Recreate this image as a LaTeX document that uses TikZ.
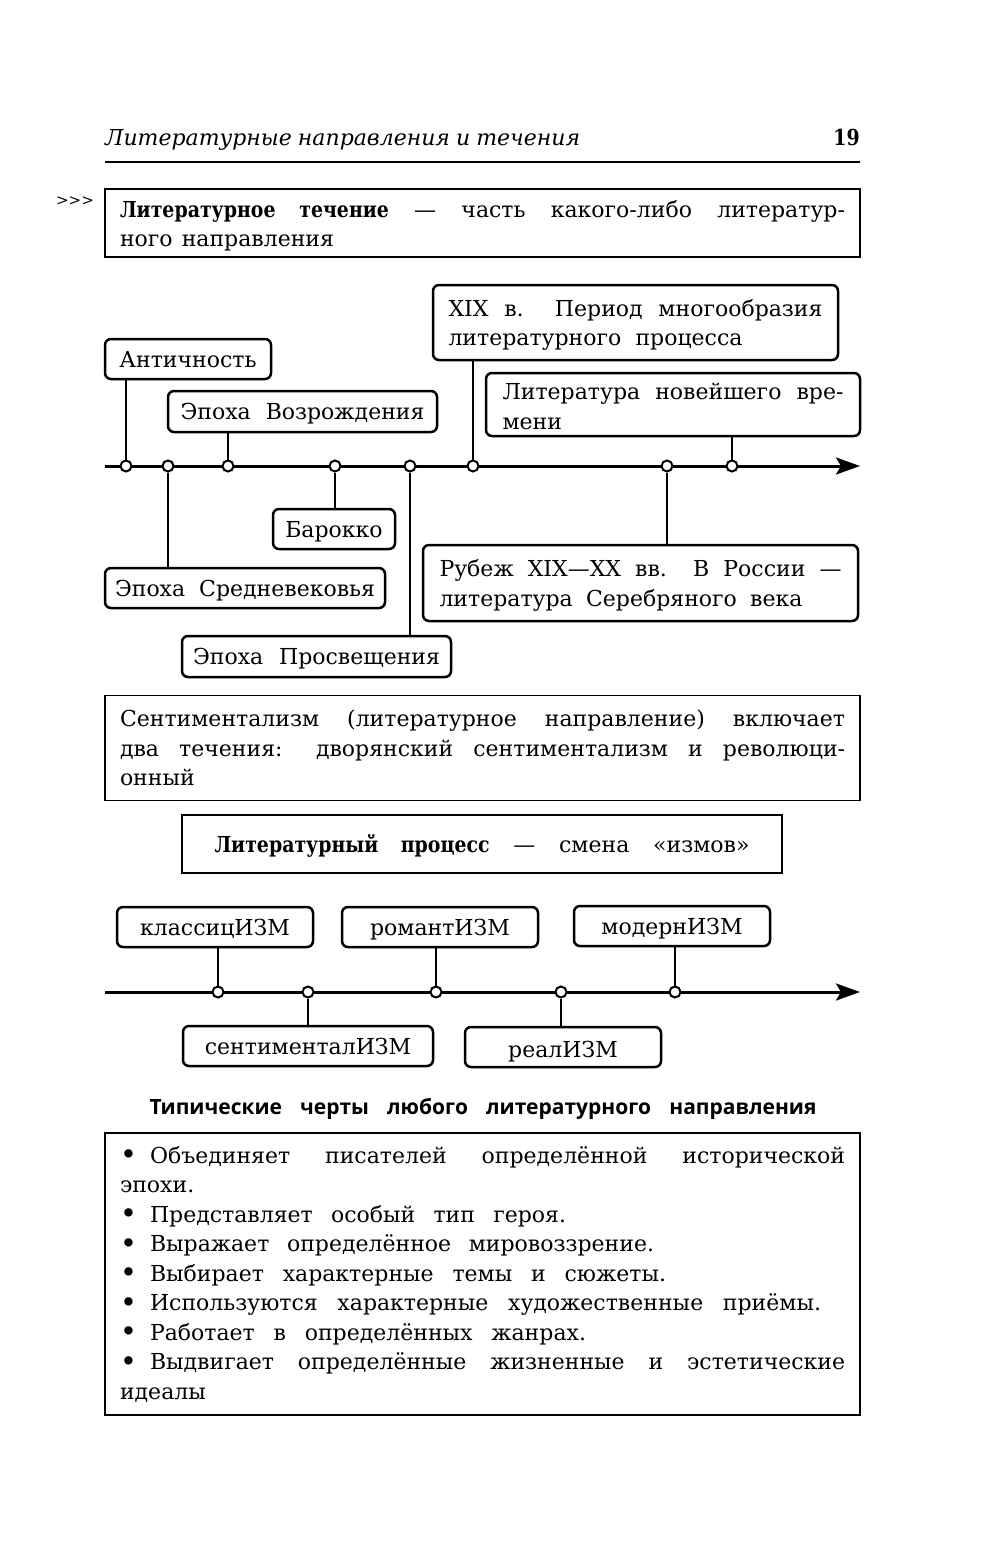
\documentclass[tikz,border=0pt]{standalone}
\usepackage{fontspec}
\setmainfont{DejaVu Serif}[WordSpace=1.3, BoldFeatures={FakeStretch=0.86}]
\newfontfamily\headsans{Open Sans}
\usetikzlibrary{arrows.meta}
\newcommand{\spl}[2]{\makebox[#1pt][s]{#2}}
\newcommand{\ctl}[2]{\makebox[#1pt][c]{#2}}
\newcommand{\bul}{\makebox[30pt][l]{\raisebox{-1.5pt}{\scalebox{1.3}{•}}}}
\begin{document}
\begin{tikzpicture}[x=1pt,y=-1pt,
  font=\fontsize{22}{29.5}\selectfont,
  rb/.style={draw, line width=2.5pt, rounded corners=6pt, inner sep=0pt, fill=white},
  one/.style={text height=21pt, text depth=5pt},
  tb/.style={draw, line width=1.2pt, inner sep=0pt},
  dot/.style={circle, draw, fill=white, line width=2pt, inner sep=0pt, minimum size=11pt},
  conn/.style={line width=2pt},
  axis/.style={line width=3pt, -{Stealth[length=24pt,width=17pt,inset=5pt]}},
  plain/.style={inner sep=0pt}]
\fill[white] (0,0) rectangle (1000,1552);
\useasboundingbox (0,0) rectangle (1000,1552);

% header
\node[plain, anchor=base west] (htitle) at (105,146) {\itshape\spl{475}{Литературные направления и течения}};
\node[plain, anchor=base east] (hpage) at (860,146) {\bfseries 19};
\coordinate (r1) at (105,162);
\coordinate (r2) at (860,162);
\draw[line width=1.2pt] (r1) -- (r2);
\node[plain] (marks) at (75,201) {\fontsize{15}{15}\selectfont >{}>{}>};

% definition box
\node[tb, minimum width=755pt, minimum height=68pt] (defbox) at (482.5,223)
  {\parbox{725pt}{\vspace*{5pt}\spl{725}{\textbf{Литературное течение} — часть какого-либо литератур-}\\ного направления}};

% timeline 1
\node[rb, one, minimum width=166pt, minimum height=40pt] (ant) at (188,359) {\ctl{139}{Античность}};
\node[rb, one, minimum width=269pt, minimum height=41pt] (voz) at (302.5,411.5) {\spl{244}{Эпоха Возрождения}};
\node[rb, minimum width=405pt, minimum height=75pt] (xix) at (635.5,322.5)
  {\parbox{374pt}{\vspace*{5pt}\spl{374}{XIX в. Период многообразия}\\\spl{294}{литературного процесса}}};
\node[rb, minimum width=374pt, minimum height=63pt] (nov) at (673,404.5)
  {\parbox{341pt}{\vspace*{4pt}\spl{341}{Литература новейшего вре-}\\мени}};
\node[rb, one, minimum width=122pt, minimum height=40pt] (bar) at (334,529) {\ctl{97}{Барокко}};
\node[rb, one, minimum width=280pt, minimum height=40pt] (sred) at (245,588) {\spl{260}{Эпоха Средневековья}};
\node[rb, minimum width=435pt, minimum height=76pt] (rub) at (640.5,583)
  {\parbox{402pt}{\vspace*{5pt}\spl{402}{Рубеж XIX—XX вв. В России —}\\\spl{363}{литература Серебряного века}}};
\node[rb, one, minimum width=269pt, minimum height=41pt] (pros) at (316.5,656.5) {\spl{247}{Эпоха Просвещения}};

\coordinate (a1s) at (105,466);
\coordinate (a1e) at (860,466);
\draw[axis] (a1s) -- (a1e);
\node[dot] (c1) at (126,466) {};
\node[dot] (c2) at (168,466) {};
\node[dot] (c3) at (228,466) {};
\node[dot] (c4) at (335,466) {};
\node[dot] (c5) at (410,466) {};
\node[dot] (c6) at (473,466) {};
\node[dot] (c7) at (667,466) {};
\node[dot] (c8) at (732,466) {};
\draw[conn] (c1 |- ant.south) -- (c1.north);
\draw[conn] (c2.south) -- (c2 |- sred.north);
\draw[conn] (c3 |- voz.south) -- (c3.north);
\draw[conn] (c4.south) -- (c4 |- bar.north);
\draw[conn] (c5.south) -- (c5 |- pros.north);
\draw[conn] (c6 |- xix.south) -- (c6.north);
\draw[conn] (c7.south) -- (c7 |- rub.north);
\draw[conn] (c8 |- nov.south) -- (c8.north);

% sentimentalism box
\node[tb, minimum width=755pt, minimum height=105pt] (sentbox) at (482.5,748)
  {\parbox{725pt}{\spl{725}{Сентиментализм (литературное направление) включает}\\\spl{725}{два течения: дворянский сентиментализм и революци-}\\онный}};

% process box
\node[tb, one, minimum width=600pt, minimum height=58pt] (procbox) at (482,844)
  {\spl{535}{\textbf{Литературный процесс} — смена «измов»}};

% timeline 2
\node[rb, one, minimum width=196pt, minimum height=40pt] (klas) at (215,927) {\ctl{153}{классицИЗМ}};
\node[rb, one, minimum width=196pt, minimum height=40pt] (rom) at (440,927) {\ctl{143}{романтИЗМ}};
\node[rb, one, minimum width=196pt, minimum height=40pt] (mod) at (672,926) {\ctl{143}{модернИЗМ}};
\node[rb, one, minimum width=250pt, minimum height=40pt] (sent) at (308,1046) {\ctl{208}{сентименталИЗМ}};
\node[rb, one, text height=25pt, minimum width=196pt, minimum height=40pt] (real) at (563,1047) {\ctl{112}{реалИЗМ}};

\coordinate (a2s) at (105,992);
\coordinate (a2e) at (860,992);
\draw[axis] (a2s) -- (a2e);
\node[dot] (d1) at (218,992) {};
\node[dot] (d2) at (308,992) {};
\node[dot] (d3) at (436,992) {};
\node[dot] (d4) at (561,992) {};
\node[dot] (d5) at (675,992) {};
\draw[conn] (d1 |- klas.south) -- (d1.north);
\draw[conn] (d2.south) -- (d2 |- sent.north);
\draw[conn] (d3 |- rom.south) -- (d3.north);
\draw[conn] (d4.south) -- (d4 |- real.north);
\draw[conn] (d5 |- mod.south) -- (d5.north);

% heading
\node[plain] (head) at (483,1109)
  {\headsans\bfseries\fontsize{21}{24}\selectfont\spl{667}{Типические черты любого литературного направления}};

% list box
\node[tb, minimum width=755pt, minimum height=282pt] (listbox) at (482.5,1274)
  {\parbox{725pt}{%
   \bul\spl{695}{Объединяет писателей определённой исторической}\\
   эпохи.\\
   \bul\spl{416}{Представляет особый тип героя.}\\
   \bul\spl{504}{Выражает определённое мировоззрение.}\\
   \bul\spl{516}{Выбирает характерные темы и сюжеты.}\\
   \bul\spl{671}{Используются характерные художественные приёмы.}\\
   \bul\spl{436}{Работает в определённых жанрах.}\\
   \bul\spl{695}{Выдвигает определённые жизненные и эстетические}\\
   идеалы}};
\end{tikzpicture}
\end{document}
